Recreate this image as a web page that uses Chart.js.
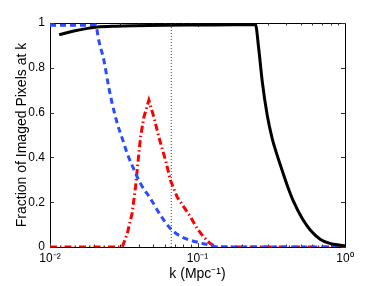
<!DOCTYPE html>
<html>
<head>
<meta charset="utf-8">
<script src="https://cdn.jsdelivr.net/npm/chart.js@4"></script>
<style>
html,body{margin:0;padding:0;background:#fff;}
#wrap{width:381px;height:286px;position:relative;}
</style>
</head>
<body>
<div id="wrap"><canvas id="c" width="381" height="286"></canvas></div>
<script>
// k values (Mpc^-1) and fractions
const kSolid = [0.01153, 0.0145, 0.018, 0.0209, 0.028, 0.037, 0.06, 0.1, 0.18, 0.247, 0.260, 0.275, 0.297, 0.321, 0.347, 0.365, 0.406, 0.450, 0.513, 0.583, 0.682, 0.798, 0.933, 1.0];
const vSolid = [0.948, 0.964, 0.976, 0.982, 0.986, 0.988, 0.99, 0.991, 0.992, 0.993, 0.886, 0.737, 0.588, 0.484, 0.409, 0.365, 0.275, 0.2, 0.127, 0.075, 0.034, 0.015, 0.008, 0.005];

const kDashed = [0.01, 0.0204, 0.0214, 0.0232, 0.0250, 0.0264, 0.0286, 0.0309, 0.0334, 0.0360, 0.0411, 0.0480, 0.0561, 0.0656, 0.0767, 0.0897, 0.105, 0.122, 0.139, 0.3, 1.0];
const vDashed = [0.99, 0.99, 0.923, 0.833, 0.714, 0.640, 0.551, 0.484, 0.417, 0.365, 0.283, 0.216, 0.142, 0.082, 0.048, 0.030, 0.018, 0.008, 0.0, 0.0, 0.0];

const kDashDot = [0.01, 0.02, 0.0309, 0.0334, 0.0360, 0.0380, 0.0396, 0.0411, 0.0433, 0.0468, 0.0506, 0.0547, 0.0607, 0.0656, 0.0728, 0.0807, 0.0897, 0.0995, 0.110, 0.122, 0.135, 0.4, 1.0];
const vDashDot = [0.0, 0.0, 0.0, 0.06, 0.149, 0.268, 0.387, 0.491, 0.580, 0.655, 0.58, 0.491, 0.387, 0.298, 0.223, 0.179, 0.134, 0.082, 0.045, 0.015, 0.0, 0.0, 0.0];

const kDotted = [0.0664, 0.0664];
const vDotted = [0, 1];

const xTickValues = [0.01, 0.1, 1];
const xTickLabels = ['10\u207B\u00B2', '10\u207B\u00B9', '10\u2070'];
const yTickValues = [0, 0.2, 0.4, 0.6, 0.8, 1];
const yTickLabels = ['0', '0.2', '0.4', '0.6', '0.8', '1'];

const xTitle = 'k (Mpc\u207B\u00B9)';
const yTitle = 'Fraction of Imaged Pixels at k';

function pts(ks, vs){ return ks.map((k,i)=>({x:k, y:vs[i]})); }

const frame = {
  id: 'frame',
  beforeDatasetsDraw(chart){
    const {ctx, chartArea:a, scales} = chart;
    const xs = scales.x, ys = scales.y;
    ctx.save();
    ctx.strokeStyle = '#000';
    ctx.lineWidth = 1;
    ctx.beginPath();
    ctx.rect(Math.round(a.left)+0.5, Math.round(a.top)+0.5, Math.round(a.right-a.left), Math.round(a.bottom-a.top));
    ctx.stroke();
    ctx.strokeStyle = '#333';
    ctx.beginPath();
    yTickValues.forEach(v=>{
      const y = Math.round(ys.getPixelForValue(v))+0.5;
      ctx.moveTo(a.left, y); ctx.lineTo(a.left+4, y);
      ctx.moveTo(a.right, y); ctx.lineTo(a.right-4, y);
    });
    for (let e=-2; e<0; e++){
      for (let m=1; m<=9; m++){
        const val = m*Math.pow(10,e);
        const x = Math.round(xs.getPixelForValue(val))+0.5;
        const len = (m===1)?4:2.5;
        ctx.moveTo(x, a.bottom); ctx.lineTo(x, a.bottom-len);
        ctx.moveTo(x, a.top); ctx.lineTo(x, a.top+len);
      }
    }
    ctx.stroke();
    ctx.restore();
  }
};

new Chart(document.getElementById('c'), {
  type: 'line',
  data: {
    datasets: [
      { data: pts(kDotted, vDotted), borderColor: '#444', borderWidth: 1, borderDash: [1,2], pointRadius: 0, fill: false },
      { data: pts(kSolid, vSolid), borderColor: '#000', borderWidth: 3, pointRadius: 0, fill: false, cubicInterpolationMode: 'monotone' },
      { data: pts(kDashed, vDashed), borderColor: '#2a4dff', borderWidth: 3, borderDash: [6,4], pointRadius: 0, fill: false, cubicInterpolationMode: 'monotone' },
      { data: pts(kDashDot, vDashDot), borderColor: '#ff0000', borderWidth: 3, borderDash: [7,3,1.5,3], pointRadius: 0, fill: false, tension: 0 }
    ]
  },
  options: {
    responsive: false,
    animation: false,
    devicePixelRatio: 1,
    layout: { padding: { left: 0, top: 23, right: 36, bottom: 0 } },
    plugins: { legend: { display: false }, tooltip: { enabled: false } },
    scales: {
      x: {
        type: 'logarithmic',
        min: 0.01, max: 1,
        grid: { display: false, drawTicks: false },
        border: { display: false },
        afterBuildTicks(s){ s.ticks = xTickValues.map(v=>({value:v})); },
        afterFit(s){ s.height = 39; s.paddingLeft = 0; s.paddingRight = 0; },
        ticks: {
          color: '#000',
          font: { family: 'Liberation Sans, Arial, sans-serif', size: 12 },
          padding: 4,
          maxRotation: 0,
          autoSkip: false,
          callback: (v, i) => xTickLabels[i]
        },
        title: {
          display: true, text: xTitle, color: '#000',
          font: { family: 'Liberation Sans, Arial, sans-serif', size: 14 },
          padding: { top: 0, bottom: 3 }
        }
      },
      y: {
        min: 0, max: 1,
        grid: { display: false, drawTicks: false },
        border: { display: false },
        afterBuildTicks(s){ s.ticks = yTickValues.map(v=>({value:v})); },
        afterFit(s){ s.width = 50; },
        ticks: {
          color: '#000',
          font: { family: 'Liberation Sans, Arial, sans-serif', size: 12 },
          padding: 5,
          autoSkip: false,
          callback: (v, i) => yTickLabels[i]
        },
        title: {
          display: true, text: yTitle, color: '#000',
          font: { family: 'Liberation Sans, Arial, sans-serif', size: 14 },
          padding: { top: 14, bottom: 0 }
        }
      }
    }
  },
  plugins: [frame]
});
</script>
</body>
</html>
